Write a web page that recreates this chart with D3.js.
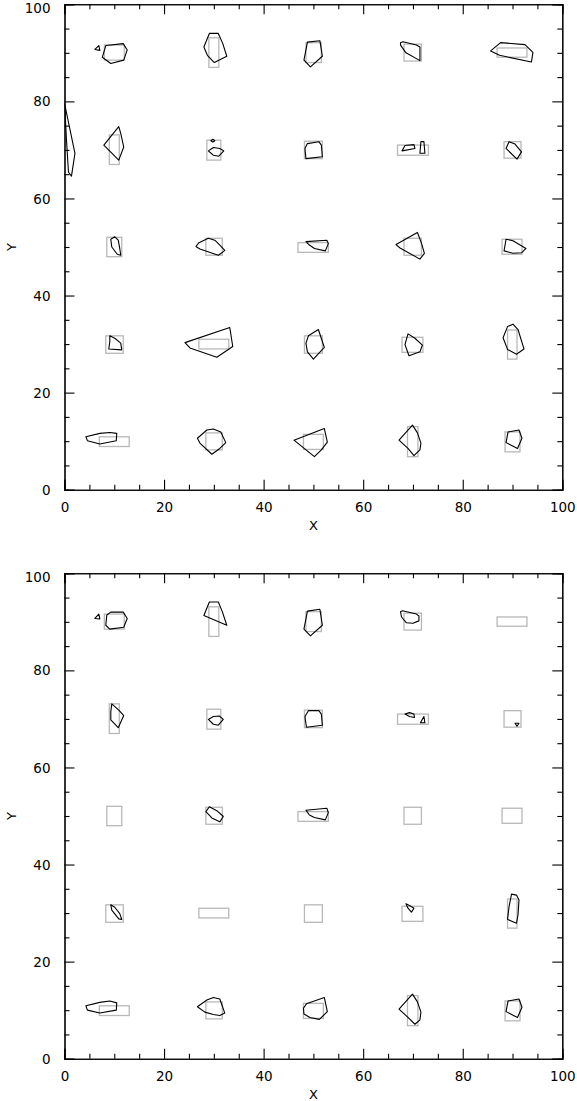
<!DOCTYPE html>
<html>
<head>
<meta charset="utf-8">
<script src="https://cdn.jsdelivr.net/npm/d3@7/dist/d3.min.js"></script>
<style>
  html, body { margin: 0; padding: 0; background: #fff; }
  svg { display: block; }
  text { font-family: "DejaVu Sans", sans-serif; fill: #000; }
</style>
</head>
<body>
<svg id="chart" width="577" height="1101"></svg>
<script>
// ---- Data (data units, 0..100) ----
const majorTicks = [0, 20, 40, 60, 80, 100];
const minorTicks = [5, 10, 15, 25, 30, 35, 45, 50, 55, 65, 70, 75, 85, 90, 95];
const tickLabels = ["0", "20", "40", "60", "80", "100"];

// True source boxes: [x0, x1, y0, y1]
const truthBoxes = [
  [8.0, 12.0, 88.5, 91.6], [29.0, 31.0, 87.0, 93.1], [48.5, 51.6, 88.0, 92.1], [68.2, 71.7, 88.3, 91.8], [86.9, 92.9, 89.1, 91.0],
  [9.0, 11.0, 67.0, 73.1], [28.6, 31.4, 67.9, 72.0], [48.2, 51.8, 68.2, 71.8], [66.9, 73.1, 68.9, 71.0], [88.3, 91.7, 68.3, 71.7],
  [8.5, 11.5, 48.0, 52.0], [28.4, 31.7, 48.3, 51.8], [46.9, 53.0, 48.9, 50.9], [68.2, 71.7, 48.3, 51.8], [87.9, 91.9, 48.5, 51.6],
  [8.3, 11.8, 28.1, 31.7], [27.0, 33.0, 29.0, 31.0], [48.2, 51.8, 28.1, 31.7], [67.8, 72.0, 28.3, 31.4], [89.0, 90.9, 26.9, 32.9],
  [7.0, 13.0, 8.9, 10.9], [28.4, 31.7, 8.2, 11.7], [48.0, 52.0, 8.3, 11.4], [68.9, 71.0, 6.8, 13.0], [88.5, 91.5, 7.8, 11.9]
];

// Detected outlines, top panel
const detectedTop = [
  [[7.6,89.1],[8.3,91.5],[11.8,91.9],[12.6,90.6],[11.9,88.5],[9.3,87.8]],
  [[6.1,90.7],[6.9,91.5],[7.1,90.5]],
  [[29.1,94.0],[30.9,94.0],[31.8,91.9],[32.6,89.3],[30.1,88.0],[28.7,89.5],[28.0,91.2]],
  [[48.8,92.2],[51.3,92.5],[51.8,89.3],[49.4,87.1],[48.1,88.5]],
  [[67.5,92.1],[68.0,92.3],[70.7,91.6],[71.4,91.2],[71.4,88.4],[68.6,90.0],[67.5,91.6]],
  [[85.6,90.4],[87.6,92.1],[92.5,91.7],[94.1,90.1],[93.8,88.1],[87.4,89.5]],
  [[0.0,79.6],[2.1,69.3],[1.4,64.6],[0.8,65.4],[0.4,72.0],[0.1,78.0]],
  [[7.9,71.0],[10.9,74.8],[11.3,73.4],[11.9,70.6],[10.9,67.9]],
  [[28.9,69.8],[29.9,70.5],[31.2,70.3],[32.0,69.8],[31.0,68.7],[29.9,68.9]],
  [[29.4,71.9],[29.8,72.2],[30.2,71.9],[29.8,71.6]],
  [[48.8,71.3],[51.1,71.7],[51.6,71.0],[51.8,68.6],[48.5,68.2],[48.3,70.3]],
  [[67.8,69.8],[68.4,70.9],[70.2,71.1],[70.4,70.3]],
  [[71.4,69.3],[71.6,71.7],[72.2,71.7],[72.4,69.3]],
  [[89.3,71.7],[90.5,71.2],[91.8,69.6],[90.9,68.1],[88.7,70.3]],
  [[9.3,51.6],[10.1,52.1],[10.8,51.4],[11.1,49.7],[11.3,48.3],[10.6,48.5],[9.5,50.0]],
  [[26.4,50.1],[27.0,50.9],[28.9,51.8],[30.2,51.4],[31.2,50.4],[32.2,49.3],[31.6,48.8],[30.9,48.3],[27.2,49.6]],
  [[48.5,51.1],[52.7,51.4],[53.0,50.7],[52.4,49.2],[50.2,49.7],[49.2,50.4]],
  [[66.6,50.5],[70.9,53.0],[71.7,50.8],[72.3,48.7],[71.4,47.5],[67.4,49.8]],
  [[88.7,51.6],[90.1,51.3],[92.7,49.7],[91.8,48.8],[90.1,48.7],[88.3,49.2]],
  [[9.1,31.7],[10.1,31.2],[11.3,30.2],[11.5,28.8],[8.9,29.0],[9.1,30.5]],
  [[24.2,30.3],[33.2,33.4],[33.8,29.5],[30.6,27.3],[25.2,29.2]],
  [[49.0,31.7],[51.0,33.0],[52.2,29.3],[50.0,26.9],[48.8,28.4],[48.5,30.2]],
  [[69.0,32.1],[70.4,31.2],[71.9,29.8],[71.4,28.4],[69.2,27.6],[68.4,29.9]],
  [[88.1,31.3],[89.0,33.6],[90.1,34.1],[91.1,33.0],[92.3,29.0],[90.8,27.9],[89.0,28.9]],
  [[4.3,10.9],[7.1,11.6],[9.1,11.8],[10.5,11.6],[10.4,10.1],[7.1,9.4],[4.6,10.1]],
  [[26.7,10.6],[28.6,12.3],[29.9,12.5],[31.4,11.9],[32.4,9.7],[31.2,8.5],[29.6,7.3],[27.2,9.6]],
  [[46.1,10.2],[52.2,12.6],[52.8,9.8],[51.6,8.2],[50.2,6.8]],
  [[67.2,10.2],[69.9,13.3],[70.9,11.7],[71.6,9.6],[71.4,8.2],[70.2,7.0],[69.0,8.5]],
  [[89.1,11.9],[91.3,12.3],[91.9,10.6],[91.0,8.5],[88.7,9.7]]
];

// Detected outlines, bottom panel
const detectedBottom = [
  [[8.5,91.4],[9.3,92.0],[11.8,92.0],[12.6,90.7],[11.9,88.9],[9.1,88.5],[8.3,89.3]],
  [[6.1,90.7],[6.9,91.6],[7.1,90.6]],
  [[28.0,91.3],[29.1,94.1],[30.9,94.1],[31.7,92.1],[32.6,89.3]],
  [[48.8,92.2],[51.3,92.6],[51.8,89.3],[49.4,87.1],[48.1,88.5]],
  [[67.5,92.1],[67.9,92.3],[70.7,91.6],[71.2,91.2],[71.2,90.2],[70.0,89.7],[68.7,89.8],[67.7,91.0]],
  [[9.5,73.1],[11.0,71.7],[11.9,70.7],[10.8,68.2],[9.3,69.8],[9.3,71.5]],
  [[28.9,69.9],[29.9,70.5],[31.1,70.6],[31.9,69.9],[30.9,68.7],[29.9,68.9]],
  [[49.0,71.7],[51.1,71.7],[51.6,71.0],[51.8,68.7],[48.6,68.3],[48.3,70.5]],
  [[68.4,71.0],[69.3,71.3],[70.2,71.0],[70.3,70.3],[69.3,70.5]],
  [[71.5,69.2],[72.2,70.5],[72.4,69.2]],
  [[90.5,69.1],[91.3,69.1],[90.9,68.5]],
  [[28.4,50.9],[29.1,51.9],[30.6,51.1],[31.9,49.9],[31.2,48.8],[29.6,49.6]],
  [[48.5,51.2],[52.7,51.6],[53.0,50.7],[52.4,49.2],[50.2,49.7],[49.2,50.2]],
  [[9.3,31.7],[10.1,31.2],[11.1,29.9],[11.5,28.7],[10.9,28.8],[9.5,30.6]],
  [[68.6,31.9],[69.4,31.5],[70.2,31.0],[69.7,30.2],[69.0,31.0]],
  [[89.8,33.9],[90.8,33.7],[91.3,32.7],[91.1,29.6],[90.8,27.9],[89.0,28.7],[89.3,31.3]],
  [[4.3,10.9],[7.1,11.6],[9.1,11.9],[10.5,11.5],[10.4,10.0],[7.1,9.4],[4.6,10.0]],
  [[26.7,10.7],[28.6,12.1],[29.9,12.6],[31.2,12.3],[32.2,9.4],[31.2,8.9],[29.9,9.1],[28.2,9.6]],
  [[48.0,10.4],[48.6,11.3],[52.2,12.6],[52.8,9.7],[51.2,8.1],[49.3,8.5],[48.1,9.2]],
  [[67.2,10.2],[69.9,13.3],[70.9,11.7],[71.6,9.6],[71.4,8.0],[70.4,7.1],[69.0,8.5]],
  [[89.1,11.9],[91.3,12.3],[91.9,10.6],[91.0,8.5],[88.7,9.7]]
];

// ---- Drawing ----
const svg = d3.select("#chart");
const panels = [
  { top: 4.3, bottom: 489.7, shapes: detectedTop },
  { top: 573.3, bottom: 1058.7, shapes: detectedBottom }
];
const left = 64.5, right = 562.3;

panels.forEach(p => {
  const x = d3.scaleLinear().domain([0, 100]).range([left, right]);
  const y = d3.scaleLinear().domain([0, 100]).range([p.bottom, p.top]);
  const g = svg.append("g");

  // clip for plot area
  const clipId = "clip" + Math.round(p.top);
  g.append("clipPath").attr("id", clipId)
    .append("rect").attr("x", left).attr("y", p.top)
    .attr("width", right - left).attr("height", p.bottom - p.top);

  const plot = g.append("g").attr("clip-path", `url(#${clipId})`);

  // truth boxes (grey)
  plot.selectAll("rect.box").data(truthBoxes).enter().append("rect")
    .attr("class", "box")
    .attr("x", d => x(d[0]))
    .attr("y", d => y(d[3]))
    .attr("width", d => x(d[1]) - x(d[0]))
    .attr("height", d => y(d[2]) - y(d[3]))
    .attr("fill", "none")
    .attr("stroke", "#b8b8b8")
    .attr("stroke-width", 1.3);

  // detected outlines (black)
  const line = d3.line().x(d => x(d[0])).y(d => y(d[1])).curve(d3.curveLinearClosed);
  plot.selectAll("path.shape").data(p.shapes).enter().append("path")
    .attr("class", "shape")
    .attr("d", line)
    .attr("fill", "none")
    .attr("stroke", "#000")
    .attr("stroke-width", 1.1)
    .attr("stroke-linejoin", "round");

  // axes with inward ticks on all four sides
  const axisG = g.append("g");
  const mk = (axis, tf) => axisG.append("g").attr("transform", tf).call(axis)
      .call(s => s.select(".domain").attr("stroke", "#000").attr("stroke-width", 1.1));

  // bottom: major labelled
  const xb = mk(d3.axisBottom(x).tickValues(majorTicks).tickSize(-10).tickPadding(13)
      .tickFormat((d, i) => tickLabels[i]), `translate(0,${p.bottom})`);
  xb.selectAll("text").attr("font-size", 13.5).attr("dy", "0.71em");
  mk(d3.axisBottom(x).tickValues(minorTicks).tickSize(-5).tickFormat(""), `translate(0,${p.bottom})`);
  // top
  mk(d3.axisTop(x).tickValues(majorTicks).tickSize(-10).tickFormat(""), `translate(0,${p.top})`);
  mk(d3.axisTop(x).tickValues(minorTicks).tickSize(-5).tickFormat(""), `translate(0,${p.top})`);
  // left
  const yl = mk(d3.axisLeft(y).tickValues(majorTicks).tickSize(-10).tickPadding(14)
      .tickFormat((d, i) => tickLabels[i]), `translate(${left},0)`);
  yl.selectAll("text").attr("font-size", 13.5)
    .attr("dy", d => d === 100 ? "0.62em" : "0.34em");
  mk(d3.axisLeft(y).tickValues(minorTicks).tickSize(-5).tickFormat(""), `translate(${left},0)`);
  // right
  mk(d3.axisRight(y).tickValues(majorTicks).tickSize(-10).tickFormat(""), `translate(${right},0)`);
  mk(d3.axisRight(y).tickValues(minorTicks).tickSize(-5).tickFormat(""), `translate(${right},0)`);

  axisG.selectAll(".tick line").attr("stroke", "#000").attr("stroke-width", 1.1);
  axisG.selectAll("text").attr("font-family", "DejaVu Sans, sans-serif").attr("fill", "#000");

  // axis titles
  g.append("text").attr("x", (left + right) / 2).attr("y", p.bottom + 40)
    .attr("text-anchor", "middle").attr("font-size", 13).text("X");
  g.append("text")
    .attr("transform", `translate(16,${(p.top + p.bottom) / 2}) rotate(-90)`)
    .attr("text-anchor", "middle").attr("font-size", 13).text("Y");
});
</script>
</body>
</html>
